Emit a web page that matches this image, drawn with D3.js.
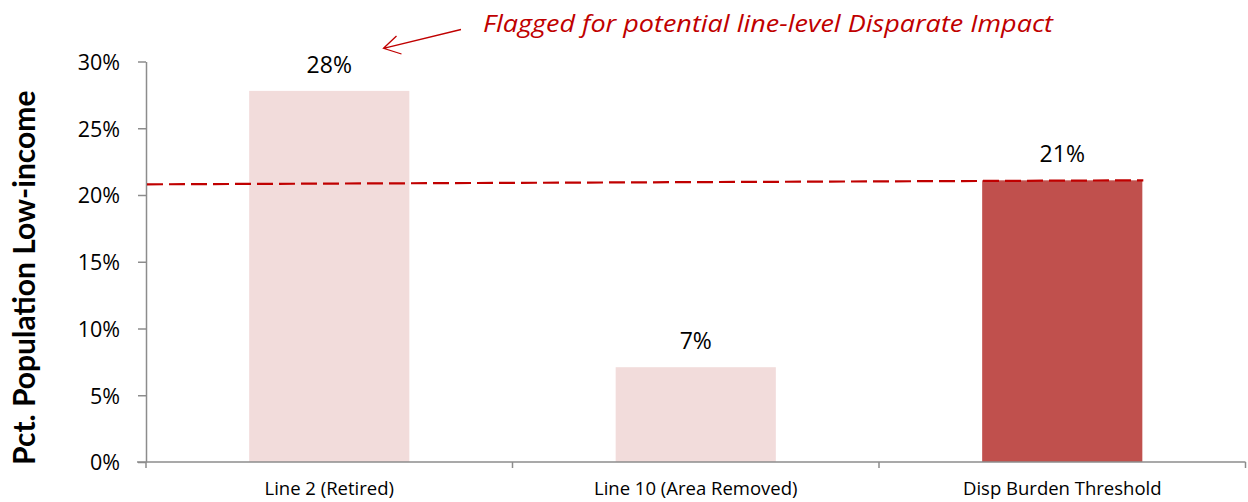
<!DOCTYPE html>
<html>
<head>
<meta charset="utf-8">
<script src="https://cdn.jsdelivr.net/npm/d3@7"></script>
<style>
  html, body { margin: 0; padding: 0; background: #fff; }
  svg { display: block; }
  text { font-family: "Open Sans", Lato, sans-serif; }
</style>
</head>
<body>
<svg id="chart" width="1248" height="502"></svg>
<script>
// Share of population that is low-income along each line vs. the disparate burden threshold
const categories = ["Line 2 (Retired)", "Line 10 (Area Removed)", "Disp Burden Threshold"];
const values = [0.278, 0.071, 0.211];
const barColors = ["#F2DCDB", "#F2DCDB", "#C0504D"];
const yTicks = [0, 0.05, 0.10, 0.15, 0.20, 0.25, 0.30];
const thresholdStart = 0.208;   // dashed reference line at the axis
const thresholdEnd = 0.211;     // meets the top of the threshold bar
const yTitle = "Pct. Population Low-income";
const note = "Flagged for potential line-level Disparate Impact";

const svg = d3.select("#chart");
const m = { left: 146, right: 1245.5, top: 61.5, bottom: 462 };

const x = d3.scaleBand().domain(categories).range([m.left, m.right]).padding(0);
const y = d3.scaleLinear().domain([0, 0.30]).range([m.bottom, m.top]);
const barW = x.bandwidth() * 0.437;
const axisColor = "#8c8c8c";

// Bars
svg.append("g").selectAll("rect").data(categories).join("rect")
  .attr("x", d => x(d) + (x.bandwidth() - barW) / 2)
  .attr("width", barW)
  .attr("y", (d, i) => y(values[i]))
  .attr("height", (d, i) => y(0) - y(values[i]))
  .attr("fill", (d, i) => barColors[i]);

// Y axis
const yAxis = svg.append("g").attr("transform", `translate(${m.left},0)`)
  .call(d3.axisLeft(y).tickValues(yTicks).tickFormat(d3.format(".0%")).tickSize(8).tickSizeOuter(0).tickPadding(18));
yAxis.select(".domain").attr("stroke", axisColor).attr("stroke-width", 1.5);
yAxis.selectAll(".tick line").attr("stroke", axisColor).attr("stroke-width", 1.5);
yAxis.selectAll(".tick text").attr("fill", "#000").style("font-size", "21.5px").attr("dy", "0.36em");

// X axis with ticks at category boundaries
const xAxisG = svg.append("g").attr("transform", `translate(0,${m.bottom})`);
xAxisG.append("line").attr("x1", m.left - 9).attr("x2", m.right)
  .attr("stroke", axisColor).attr("stroke-width", 1.5);
const bounds = categories.map(c => x(c)).concat([x(categories[categories.length - 1]) + x.bandwidth()]);
xAxisG.selectAll(".bt").data(bounds).join("line").attr("class", "bt")
  .attr("x1", d => d).attr("x2", d => d).attr("y1", 0).attr("y2", 6)
  .attr("stroke", axisColor).attr("stroke-width", 1.5);
xAxisG.selectAll(".cl").data(categories).join("text").attr("class", "cl")
  .attr("x", d => x(d) + x.bandwidth() / 2).attr("y", 33)
  .attr("text-anchor", "middle").style("font-size", "18.5px").attr("fill", "#000")
  .text(d => d);

// Dashed threshold line
svg.append("line")
  .attr("x1", m.left + 1).attr("y1", y(thresholdStart))
  .attr("x2", x(categories[2]) + (x.bandwidth() + barW) / 2 + 1).attr("y2", y(thresholdEnd))
  .attr("stroke", "#C00000").attr("stroke-width", 2.2).attr("stroke-dasharray", "16 6");

// Value labels
svg.append("g").selectAll("text").data(categories).join("text")
  .attr("x", d => x(d) + x.bandwidth() / 2)
  .attr("y", (d, i) => y(values[i]) - 18)
  .attr("text-anchor", "middle").style("font-size", "23px").attr("fill", "#000")
  .text((d, i) => d3.format(".0%")(values[i]));

// Y axis title
svg.append("text")
  .attr("transform", `translate(35,${(m.top + m.bottom) / 2 + 16}) rotate(-90)`)
  .attr("text-anchor", "middle").style("font-family", "Lato, sans-serif")
  .style("font-size", "30px").style("font-weight", "bold")
  .attr("fill", "#000").text(yTitle);

// Annotation with arrow toward the first bar
svg.append("text").attr("x", 483).attr("y", 32)
  .attr("textLength", 570).attr("lengthAdjust", "spacingAndGlyphs")
  .style("font-size", "24.5px").style("font-style", "italic").attr("fill", "#C00000")
  .text(note);
const arrow = d3.path();
arrow.moveTo(461, 29.5); arrow.lineTo(383.5, 48.3);
arrow.moveTo(396.5, 36); arrow.lineTo(383.5, 48.3); arrow.lineTo(401.5, 54);
svg.append("path").attr("d", arrow.toString()).attr("fill", "none")
  .attr("stroke", "#C00000").attr("stroke-width", 1.3);
</script>
</body>
</html>
